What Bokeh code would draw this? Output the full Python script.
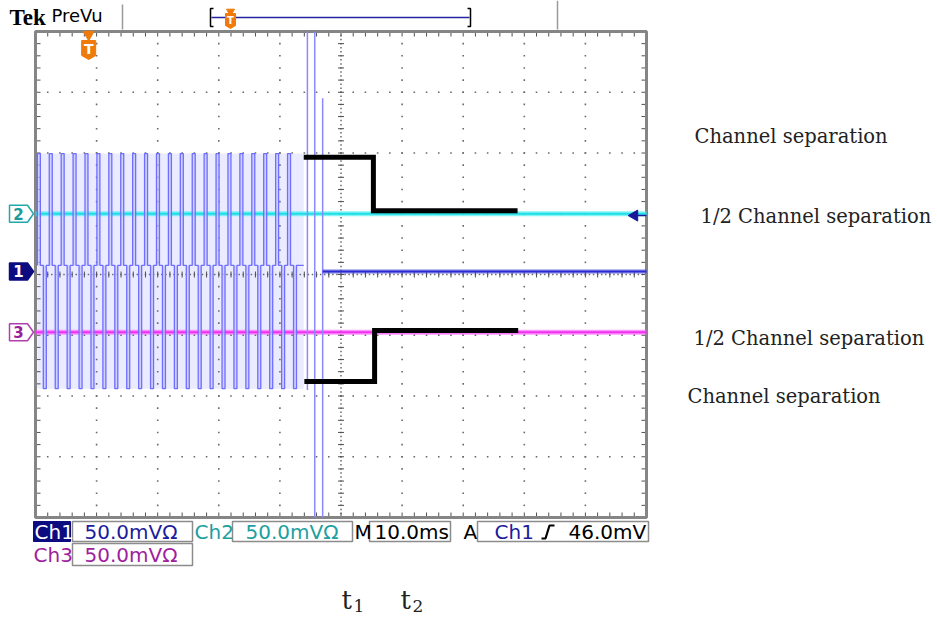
import numpy as np
from bokeh.plotting import figure
from bokeh.models import Range1d
from bokeh.core.properties import value
from bokeh.embed import file_html
from bokeh.resources import INLINE

# ---------------- data ----------------
ms_per_div = 10.0
mv_per_div = 50.0
h_divs = 10
v_divs = 8

channel_ids = ["2", "1", "3"]
channel_offsets_div = [1.0, 0.05, -0.95]

# Ch1 burst (bipolar pulses) before t1
ch1_pulse_starts_ms = [0.3, 2.25, 4.2, 6.15, 8.1, 10.05, 12.0, 13.95, 15.9, 17.85, 19.8,
                       21.75, 23.7, 25.65, 27.6, 29.55, 31.5, 33.45, 35.4, 37.35, 39.3, 41.25]
ch1_pulse_width_ms = 0.49
ch1_burst_rest_div = 0.15
ch1_pos_peak_div = 1.99
ch1_neg_peak_div = -1.88
ch1_burst_end_ms = 43.9
# switching spikes
ch1_spike_ms = [44.5, 45.7, 47.0]
ch1_spike_top_div = [4.0, 4.0, 2.9]
ch1_spike_bottom_div = [-1.9, -4.0, -4.0]
# settled traces
ch1_settled_ms = [47.0, 100.0]
ch2_ms = [0.0, 100.0]
ch3_ms = [0.0, 100.0]

# drawn "channel separation" step annotations
sep_upper_ms = [43.9, 55.3, 55.3, 78.9]
sep_upper_div = [1.93, 1.93, 1.05, 1.05]
sep_lower_ms = [44.0, 55.5, 55.5, 79.0]
sep_lower_div = [-1.76, -1.76, -0.92, -0.92]

trigger_pos_ms = 8.7
trigger_level_mv = 46.0

annotation_labels = ["Channel separation", "1/2 Channel separation",
                     "1/2 Channel separation", "Channel separation"]
time_mark_base = ["t", "t"]
time_mark_sub = ["1", "2"]

status_row1 = ["Ch1", "50.0mV\u03a9", "Ch2", "50.0mV\u03a9", "M", "10.0ms", "A", "Ch1", "46.0mV"]
status_row2 = ["Ch3", "50.0mV\u03a9"]

# ---------------- layout helpers (page pixels -> data units) ----------------
W, H = 937, 617
GX0, GY0 = 35.0, 274.0
PXMS = 6.11
PXDIV = 60.75


def X(px):
    return (px - GX0) / PXMS


def Y(py):
    return (GY0 - py) / PXDIV


p = figure(width=W, height=H, x_range=Range1d(X(0), X(W)), y_range=Range1d(Y(H), Y(0)),
           x_axis_type=None, y_axis_type=None, toolbar_location=None, output_backend="svg",
           min_border=0, outline_line_color=None, background_fill_color="white",
           border_fill_color="white")

full_t = h_divs * ms_per_div
half_v = v_divs / 2

# burst backdrop (dense aliased trace look)
p.quad(left=[ch1_pulse_starts_ms[0]], right=[ch1_burst_end_ms], bottom=[ch1_neg_peak_div],
       top=[ch1_pos_peak_div], fill_color="#ebebff", line_color=None)

# ---------------- graticule ----------------
gx, gy = [], []
for k in range(1, h_divs):
    if k == h_divs // 2:
        continue
    for j in range(1, v_divs * 5):
        gx.append(k * ms_per_div)
        gy.append(-half_v + j * 0.2)
for k in range(-3, 4):
    if k == 0:
        continue
    for j in range(1, h_divs * 5):
        gx.append(j * ms_per_div / 5)
        gy.append(k)
p.scatter(gx, gy, marker="square", size=1.6, fill_color="#6a6a6a", line_color=None)

# center lines
cx = list(np.arange(1, h_divs * 15) * ms_per_div / 15)
p.scatter(cx, [0] * len(cx), marker="square", size=1.5, fill_color="#6a6a6a", line_color=None)
cy = list(-half_v + np.arange(1, v_divs * 15) / 15)
p.scatter([full_t / 2] * len(cy), cy, marker="square", size=1.5, fill_color="#6a6a6a", line_color=None)
tx = [j * ms_per_div / 5 for j in range(1, h_divs * 5)]
p.scatter(tx, [0] * len(tx), marker="dash", size=6, angle=np.pi / 2, line_color="#505050", line_width=1)
ty = [-half_v + j * 0.2 for j in range(1, v_divs * 5)]
p.scatter([full_t / 2] * len(ty), ty, marker="dash", size=6, line_color="#505050", line_width=1)

# edge ticks
p.scatter(tx, [Y(33.5)] * len(tx), marker="dash", size=5, angle=np.pi / 2, line_color="#505050")
p.scatter(tx, [Y(514.5)] * len(tx), marker="dash", size=5, angle=np.pi / 2, line_color="#505050")
p.scatter([X(37.5)] * len(ty), ty, marker="dash", size=5, line_color="#505050")
p.scatter([X(643.5)] * len(ty), ty, marker="dash", size=5, line_color="#505050")

p.quad(left=0, right=full_t, bottom=-half_v, top=half_v, fill_color=None,
       line_color="#858585", line_width=3)

# ---------------- traces ----------------
# Ch2 and Ch3 (noisy flat lines)
p.line(ch2_ms, [channel_offsets_div[0]] * 2, line_color="#30eef2", line_width=5, line_alpha=0.6)
p.line(ch2_ms, [channel_offsets_div[0]] * 2, line_color="#20dde6", line_width=2)
p.line(ch3_ms, [channel_offsets_div[2]] * 2, line_color="#ff50ff", line_width=5, line_alpha=0.6)
p.line(ch3_ms, [channel_offsets_div[2]] * 2, line_color="#f030f0", line_width=2)

# Ch1 burst
w = ch1_pulse_width_ms
r = ch1_burst_rest_div
bx, by = [], []
for s in ch1_pulse_starts_ms:
    bx += [s, s, s + w, s + w, s + 2 * w, s + 2 * w, s + 3 * w, s + 3 * w]
    by += [r, ch1_pos_peak_div, ch1_pos_peak_div, r, r, ch1_neg_peak_div, ch1_neg_peak_div, r]
bx.append(ch1_burst_end_ms)
by.append(r)
ql = [s for s in ch1_pulse_starts_ms] + [s + 2 * w for s in ch1_pulse_starts_ms]
qr = [s + w for s in ch1_pulse_starts_ms] + [s + 3 * w for s in ch1_pulse_starts_ms]
qb = [r] * len(ch1_pulse_starts_ms) + [ch1_neg_peak_div] * len(ch1_pulse_starts_ms)
qt = [ch1_pos_peak_div] * len(ch1_pulse_starts_ms) + [r] * len(ch1_pulse_starts_ms)
p.quad(left=ql, right=qr, bottom=qb, top=qt, fill_color="#c4c4ff", fill_alpha=0.7, line_color=None)
p.line(bx, by, line_color="#6e6eff", line_width=1.3)

p.segment(x0=ch1_spike_ms, y0=ch1_spike_top_div, x1=ch1_spike_ms, y1=ch1_spike_bottom_div,
          line_color="#8a8aff", line_width=1.5)
p.line(ch1_settled_ms, [channel_offsets_div[1]] * 2, line_color="#4040e0", line_width=4, line_alpha=0.7)
p.line(ch1_settled_ms, [channel_offsets_div[1]] * 2, line_color="#2a2ad0", line_width=1.5)

# trigger level arrow (Ch1 46 mV)
trig_div = channel_offsets_div[1] + trigger_level_mv / mv_per_div
p.line([X(634), full_t], [trig_div, trig_div], line_color="#18189a", line_width=1.5)
p.scatter([X(634)], [trig_div], marker="triangle", size=11, angle=np.pi / 2,
          fill_color="#18189a", line_color="#18189a")

# black separation annotations
p.line(sep_upper_ms, sep_upper_div, line_color="black", line_width=5, line_join="miter")
p.line(sep_lower_ms, sep_lower_div, line_color="black", line_width=5, line_join="miter")

# ---------------- channel markers ----------------
hh = 8.5 / PXDIV
mk_line = ["#22a8a8", "#0c0c80", "#b040b0"]
mk_fill = ["white", "#0c0c80", "white"]
mk_text = ["#1b9a9a", "white", "#9a209a"]
xs, ys = [], []
for lvl in channel_offsets_div:
    xs.append([X(9), X(27), X(33), X(27), X(9)])
    ys.append([lvl + hh, lvl + hh, lvl, lvl - hh, lvl - hh])
p.patches(xs, ys, fill_color=mk_fill, line_color=mk_line, line_width=1.5)
p.text([X(18)] * 3, channel_offsets_div, text=channel_ids, text_color=mk_text,
       text_font=value("DejaVu Sans"), text_font_size="15px", text_font_style="bold",
       text_align="center", text_baseline="middle")

# ---------------- trigger position marker ----------------
orange = "#f07a0a"
p.scatter([trigger_pos_ms], [Y(34)], marker="inverted_triangle", size=11, fill_color=orange, line_color=orange)
tpx = GX0 + trigger_pos_ms * PXMS
p.patch([X(tpx - 7), X(tpx + 7), X(tpx + 7), X(tpx), X(tpx - 7)],
        [Y(40), Y(40), Y(55), Y(59), Y(55)], fill_color=orange, line_color=orange)
p.text([trigger_pos_ms], [Y(48.5)], text=["T"], text_color="white", text_font=value("DejaVu Sans"),
       text_font_size="14px", text_font_style="bold", text_align="center", text_baseline="middle")

# ---------------- header ----------------
p.text([X(9)], [Y(17)], text=["Tek"], text_font=value("Liberation Serif"), text_font_size="23px",
       text_font_style="bold", text_color="black", text_baseline="middle")
p.text([X(51)], [Y(15)], text=["PreVu"], text_font=value("DejaVu Sans"), text_font_size="18px",
       text_color="black", text_baseline="middle")
p.segment(x0=[X(122), X(557)], y0=[Y(4), Y(0)], x1=[X(122), X(557)], y1=[Y(29), Y(29)],
          line_color="#9a9a9a", line_width=1.5)
p.line([X(211), X(469)], [Y(17), Y(17)], line_color="#2424a0", line_width=1.5)
p.line([X(213), X(210), X(210), X(213)], [Y(8), Y(8), Y(26), Y(26)], line_color="black", line_width=1.5)
p.line([X(467), X(470), X(470), X(467)], [Y(8), Y(8), Y(26), Y(26)], line_color="black", line_width=1.5)
p.scatter([X(230)], [Y(11)], marker="inverted_triangle", size=8, fill_color=orange, line_color=orange)
p.patch([X(225), X(235), X(235), X(230), X(225)], [Y(13), Y(13), Y(25), Y(28), Y(25)],
        fill_color=orange, line_color=orange)
p.text([X(230)], [Y(20)], text=["T"], text_color="white", text_font=value("DejaVu Sans"),
       text_font_size="10px", text_font_style="bold", text_align="center", text_baseline="middle")

# ---------------- status bar ----------------
navy, teal, purple = "#1c1c9c", "#1ca0a0", "#a01ea0"
p.quad(left=[X(33)], right=[X(70)], top=[Y(521)], bottom=[Y(541)], fill_color="#0c0c80", line_color="#0c0c80")
box_l = [72, 232, 369, 477, 72]
box_r = [192, 352, 450, 648, 192]
box_t = [521, 521, 521, 521, 543]
box_b = [541, 541, 541, 541, 565]
p.quad(left=[X(v) for v in box_l], right=[X(v) for v in box_r], top=[Y(v) for v in box_t],
       bottom=[Y(v) for v in box_b], fill_color="white", line_color="#8c8c8c", line_width=1.5)
row1_x = [34, 84, 194, 245, 354, 374, 463, 494, 568]
row1_c = ["white", navy, teal, teal, "black", "black", "black", navy, "black"]
p.text([X(v) for v in row1_x], [Y(531.5)] * len(row1_x), text=status_row1, text_color=row1_c,
       text_font=value("DejaVu Sans"), text_font_size="20px", text_baseline="middle")
p.text([X(33), X(84)], [Y(554)] * 2, text=status_row2, text_color=[purple, purple],
       text_font=value("DejaVu Sans"), text_font_size="20px", text_baseline="middle")
p.line([X(541), X(545), X(549), X(554)], [Y(538), Y(538), Y(525), Y(525)], line_color="black", line_width=2.2)

# ---------------- annotations ----------------
ann_x = [694, 700, 693, 687]
ann_y = [136, 216, 338, 396]
p.text([X(v) for v in ann_x], [Y(v) for v in ann_y], text=annotation_labels, text_color="#222222",
       text_font=value("DejaVu Serif"), text_font_size="19.5px", text_baseline="middle")
p.text([X(341), X(400)], [Y(599)] * 2, text=time_mark_base, text_color="#222222",
       text_font=value("DejaVu Serif"), text_font_size="26px", text_baseline="middle")
p.text([X(353), X(412)], [Y(605)] * 2, text=time_mark_sub, text_color="#222222",
       text_font=value("DejaVu Serif"), text_font_size="17px", text_baseline="middle")

open("out.html", "w").write(file_html(p, INLINE))
